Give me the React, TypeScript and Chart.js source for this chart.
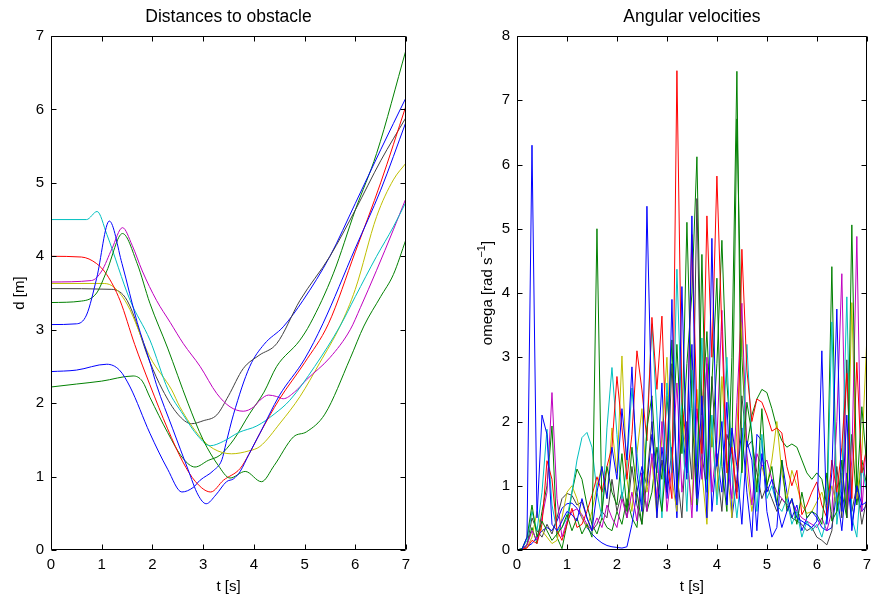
import React, { useEffect, useRef } from "react";
import { Chart, registerables } from "chart.js";
Chart.register(...registerables);

// ---------- Left plot: distances (t [s], d [m]) ----------
const dBlue1: [number, number][] = [[0,3.07],[0.5,3.08],[0.7,3.2],[0.9,3.7],[1.15,4.48],[1.4,3.9],[1.7,3.1],[1.95,2.56],[2.08,2.25],[2.4,1.65],[2.7,1.1],[2.9,0.75],[3.06,0.63],[3.25,0.75],[3.46,0.93],[3.6,0.97],[3.73,1.07],[3.9,1.3],[4.12,1.59],[4.5,2.1],[5.0,2.6],[5.36,3.08],[6,4.11],[6.5,4.9],[7,5.83]];
const dGreen1: [number, number][] = [[0,3.37],[0.6,3.39],[0.9,3.5],[1.1,3.8],[1.41,4.31],[1.7,3.9],[1.95,3.36],[2.3,2.75],[2.7,2.0],[3.0,1.5],[3.3,1.15],[3.53,0.98],[3.83,1.07],[4.15,0.93],[4.4,1.15],[4.78,1.54],[5.04,1.61],[5.4,1.85],[5.9,2.61],[6.17,3.05],[6.5,3.45],[6.75,3.75],[7,4.23]];
const dRed: [number, number][] = [[0,4.0],[0.6,3.99],[0.9,3.9],[1.1,3.75],[1.36,3.4],[1.65,2.8],[1.95,2.25],[2.3,1.65],[2.6,1.2],[2.85,0.93],[3.15,0.79],[3.4,0.95],[3.73,1.11],[3.9,1.3],[4.12,1.59],[4.5,2.05],[5.0,2.55],[5.47,3.08],[6,4.06],[6.5,5.0],[7,6.05]];
const dCyan: [number, number][] = [[0,4.5],[0.7,4.5],[0.91,4.61],[1.1,4.3],[1.56,3.4],[1.95,2.86],[2.31,2.18],[2.6,1.85],[2.9,1.55],[3.14,1.42],[3.4,1.48],[3.7,1.6],[4.06,1.69],[4.4,1.85],[4.71,2.04],[5.2,2.5],[5.7,3.05],[6,3.45],[6.42,4.0],[6.75,4.4],[7,4.74]];
const dMagenta: [number, number][] = [[0,3.65],[0.8,3.67],[1.0,3.8],[1.2,4.1],[1.41,4.39],[1.6,4.15],[1.8,3.8],[2.08,3.4],[2.35,3.1],[2.61,2.81],[2.94,2.5],[3.27,2.13],[3.53,1.95],[3.79,1.89],[4.0,1.95],[4.12,2.04],[4.29,2.11],[4.45,2.09],[4.58,2.06],[4.8,2.15],[5.04,2.32],[5.5,2.62],[5.9,3.0],[6.1,3.3],[6.42,3.81],[6.75,4.36],[7,4.79]];
const dYellow: [number, number][] = [[0,3.63],[1.0,3.63],[1.2,3.6],[1.5,3.35],[1.95,2.63],[2.38,2.18],[2.54,1.95],[2.94,1.54],[3.2,1.38],[3.56,1.31],[3.9,1.35],[4.12,1.41],[4.52,1.73],[4.91,2.09],[5.3,2.55],[5.7,3.05],[6.0,3.55],[6.42,4.54],[6.75,5.04],[7,5.27]];
const dGray: [number, number][] = [[0,3.56],[1.2,3.55],[1.5,3.4],[1.95,2.56],[2.2,2.18],[2.5,1.85],[2.77,1.72],[3.0,1.76],[3.27,1.84],[3.5,2.1],[3.79,2.47],[4.1,2.65],[4.45,2.81],[4.91,3.4],[5.5,4.0],[6,4.63],[6.5,5.3],[7,5.89]];
const dBlue2: [number, number][] = [[0,2.43],[0.5,2.45],[1.1,2.53],[1.35,2.45],[1.56,2.22],[1.95,1.59],[2.3,1.1],[2.58,0.79],[2.8,0.85],[2.94,0.95],[3.2,1.08],[3.37,1.23],[3.45,1.45],[3.6,1.85],[3.92,2.5],[4.2,2.8],[4.58,3.04],[4.97,3.4],[5.5,4.0],[6,4.72],[6.5,5.45],[7,6.16]];
const dGreen2: [number, number][] = [[0,2.22],[0.5,2.26],[1.0,2.3],[1.62,2.37],[1.8,2.3],[1.95,2.08],[2.3,1.6],[2.6,1.25],[2.84,1.13],[3.1,1.22],[3.33,1.29],[3.6,1.5],[3.92,1.86],[4.2,2.15],[4.45,2.5],[4.9,2.85],[5.11,3.08],[5.57,3.77],[6,4.63],[6.42,5.4],[7,6.81]];

// ---------- Right plot: angular velocities ----------
const tGrid = [0,0.1,0.2,0.3,0.4,0.5,0.6,0.7,0.8,0.9,1.0,1.1,1.2,1.3,1.4,1.5,1.6,1.7,1.8,1.9,2.0,2.1,2.2,2.3,2.4,2.5,2.6,2.7,2.8,2.9,3.0,3.1,3.2,3.3,3.4,3.5,3.6,3.7,3.8,3.9,4.0,4.1,4.2,4.3,4.4,4.5,4.6,4.7,4.8,4.9,5.0,5.1,5.2,5.3,5.4,5.5,5.6,5.7,5.8,5.9,6.0,6.1,6.2,6.3,6.4,6.5,6.6,6.7,6.8,6.9,7.0];
const wBlue1 = [0,0.01,0.2,6.3,0.5,2.1,1.8,0.4,0.3,0.45,0.6,0.55,0.45,0.8,0.5,0.3,0.9,1.3,0.8,1.6,1.1,2.2,1.4,2.85,1.2,0.6,5.35,2.0,0.5,1.6,0.9,3.9,0.7,4.1,1.2,5.2,0.8,2.4,0.5,4.85,1.3,2.0,0.7,1.9,1.3,0.4,1.7,1.4,0.3,1.5,0.9,1.1,0.7,0.35,0.6,0.8,0.5,0.45,0.4,0.35,0.45,3.1,0.4,1.2,3.75,0.6,2.1,0.3,1.0,0.7,0.75];
const wGreen1 = [0,0.02,0.2,0.7,0.2,0.45,0.3,0.15,0.25,0.35,0.55,0.3,0.5,0.25,0.4,0.2,5.0,0.6,1.3,0.9,0.7,1.5,0.6,1.6,0.9,0.4,1.9,2.4,1.1,0.6,1.5,3.27,0.9,1.8,5.1,2.2,0.7,4.6,1.1,2.6,4.23,1.3,0.6,3.0,7.45,1.2,2.3,1.8,0.9,2.2,1.0,1.3,0.7,1.4,0.6,0.8,0.4,0.9,0.5,0.6,0.55,0.4,1.2,0.45,0.6,1.4,0.5,5.06,0.9,2.23,1.3];
const wRed = [0,0.01,0.03,0.15,0.1,0.4,1.39,1.1,0.3,0.15,0.4,0.65,0.35,0.4,0.6,0.85,1.14,0.9,1.3,1.6,2.7,1.9,1.1,1.8,3.1,2.49,1.7,3.62,2.5,3.64,1.4,0.8,7.46,2.3,1.6,4.91,2.2,1.5,5.2,3.0,5.82,3.4,1.2,1.6,0.8,4.68,2.8,2.0,2.35,2.3,2.1,1.85,1.9,1.82,1.3,1.0,1.24,0.55,0.7,0.9,1.06,0.7,0.5,1.4,0.9,1.6,2.75,0.8,2.92,1.2,1.6];
const wCyan = [0,0.02,0.15,0.6,0.3,0.9,1.88,0.7,0.3,0.35,0.5,0.9,1.4,1.75,1.83,1.6,0.9,0.5,1.9,2.84,1.8,0.8,1.3,2.52,1.5,0.7,1.9,3.52,2.1,0.5,2.6,1.2,4.37,2.0,0.6,2.8,1.3,3.3,0.9,2.1,0.7,1.6,3.0,1.2,0.5,1.3,3.2,1.7,0.6,1.8,0.8,1.0,0.7,0.6,0.8,0.4,0.6,0.2,0.45,0.3,0.4,0.2,0.5,3.55,0.4,1.1,3.94,0.5,0.2,1.3,0.9];
const wMagenta = [0,0.01,0.08,0.3,0.15,0.5,0.9,2.45,0.8,0.2,0.45,0.6,0.64,0.55,0.4,0.3,0.5,0.35,0.7,0.5,0.35,0.8,0.5,0.9,0.45,1.2,0.6,1.5,0.8,2.0,0.6,1.3,2.6,0.9,1.6,0.5,2.2,1.1,3.0,0.9,1.7,3.73,1.4,0.8,2.3,3.84,1.5,0.7,1.5,1.3,1.4,1.1,0.9,0.8,0.7,0.75,0.6,0.5,0.45,0.4,0.35,0.5,0.3,0.6,2.0,4.3,0.5,1.4,4.88,0.6,1.8];
const wYellow = [0,0.01,0.04,0.2,0.6,0.3,0.2,0.1,0.15,0.5,0.9,1.0,0.8,0.5,0.35,0.6,1.0,1.3,0.8,1.9,1.2,3.02,1.1,0.6,1.5,2.2,0.9,1.4,0.5,1.8,3.0,1.1,0.6,2.1,1.4,0.7,2.5,1.2,0.4,1.9,0.8,2.7,1.3,0.5,1.9,3.55,1.2,0.6,1.1,1.3,1.0,1.4,2.0,1.2,0.78,1.24,1.0,0.7,0.57,0.6,0.75,0.9,0.6,1.0,0.7,1.2,0.6,3.85,0.8,1.5,3.3];
const wGray = [0,0.01,0.08,0.5,0.3,0.2,0.4,0.25,0.5,0.8,0.88,0.85,0.7,0.75,0.5,0.3,0.4,0.6,0.5,1.1,0.6,0.9,0.5,1.3,0.7,0.4,1.1,2.0,0.6,1.4,0.9,2.9,1.2,0.5,2.0,1.1,5.47,1.5,0.9,2.7,1.3,0.6,1.8,1.5,0.9,2.4,1.6,1.7,1.2,0.8,1.0,0.8,0.6,0.8,0.7,0.5,0.45,0.4,0.3,0.35,0.2,0.15,0.08,0.3,1.3,0.5,2.96,0.6,1.0,0.4,0.8];
const wBlue2 = [0,0.02,0.05,0.1,0.2,0.3,0.35,0.3,0.45,0.65,0.72,0.73,0.65,0.5,0.35,0.25,0.17,0.11,0.07,0.05,0.04,0.03,0.05,0.4,0.9,1.3,1.0,1.8,1.2,2.6,0.8,1.6,0.5,2.0,1.1,3.2,0.6,1.5,2.9,0.6,1.5,0.9,2.3,0.5,1.1,1.9,0.9,0.2,1.8,1.7,0.6,0.2,0.35,1.4,0.9,0.5,0.7,0.3,0.5,0.6,0.5,0.35,0.3,0.35,0.9,0.3,1.2,0.4,0.9,0.6,0.7];
const wGreen2 = [0,0.01,0.08,0.35,0.1,0.6,1.0,1.93,0.2,0.02,0.4,0.9,1.26,1.1,0.7,0.4,0.25,0.5,0.35,0.3,0.6,0.4,0.8,0.5,0.35,1.2,0.6,0.9,1.6,1.1,2.4,1.4,3.2,1.5,2.9,4.0,6.12,2.1,3.4,1.6,2.9,4.82,2.6,1.5,6.71,3.0,1.6,2.1,2.35,2.5,2.45,2.2,1.9,1.7,1.6,1.65,1.6,1.4,1.2,1.1,1.2,1.1,0.7,4.41,0.6,0.9,0.5,1.8,0.7,1.4,1.0];

const xTicks = [0, 1, 2, 3, 4, 5, 6, 7];
const leftYTicks = [0, 1, 2, 3, 4, 5, 6, 7];
const rightYTicks = [0, 1, 2, 3, 4, 5, 6, 7, 8];

const C = {
  b: "#0000FF", g: "#008000", r: "#FF0000", c: "#00BFBF",
  m: "#BF00BF", y: "#BFBF00", k: "#404040",
};
const FONT = "'Liberation Sans', Arial, Helvetica, sans-serif";

function framePlugin(title: string, ylabel: string, sup: boolean, ylabelOffset: number) {
  return {
    id: "frame",
    afterDraw(chart: any) {
      const { ctx, chartArea: a, scales } = chart;
      const L = Math.round(a.left) + 0.5, R = Math.round(a.right) - 0.5;
      const T = Math.round(a.top) + 0.5, B = Math.round(a.bottom) - 0.5;
      ctx.save();
      ctx.strokeStyle = "#000";
      ctx.lineWidth = 1;
      ctx.beginPath();
      ctx.rect(L, T, R - L, B - T);
      const tl = 5;
      scales.x.ticks.forEach((t: any) => {
        const x = Math.round(scales.x.getPixelForValue(t.value)) + 0.5;
        ctx.moveTo(x, B); ctx.lineTo(x, B - tl);
        ctx.moveTo(x, T); ctx.lineTo(x, T + tl);
      });
      scales.y.ticks.forEach((t: any) => {
        const y = Math.round(scales.y.getPixelForValue(t.value)) + 0.5;
        ctx.moveTo(L, y); ctx.lineTo(L + tl, y);
        ctx.moveTo(R, y); ctx.lineTo(R - tl, y);
      });
      ctx.stroke();
      ctx.fillStyle = "#000";
      const cx = (a.left + a.right) / 2;
      const cy = (a.top + a.bottom) / 2;
      ctx.font = `17.5px ${FONT}`;
      ctx.textAlign = "center";
      ctx.textBaseline = "alphabetic";
      ctx.fillText(title, cx, a.top - 14);
      ctx.font = `15px ${FONT}`;
      ctx.fillText("t [s]", cx, a.bottom + 41);
      ctx.save();
      ctx.translate(a.left - ylabelOffset, cy);
      ctx.rotate(-Math.PI / 2);
      ctx.textBaseline = "middle";
      if (!sup) {
        ctx.textAlign = "center";
        ctx.fillText(ylabel, 0, 0);
      } else {
        const main = ylabel;
        const supTxt = "\u22121";
        const tail = "]";
        ctx.font = `15px ${FONT}`;
        const w1 = ctx.measureText(main).width;
        ctx.font = `11px ${FONT}`;
        const w2 = ctx.measureText(supTxt).width;
        ctx.font = `15px ${FONT}`;
        const w3 = ctx.measureText(tail).width;
        const x0 = -(w1 + w2 + w3) / 2;
        ctx.textAlign = "left";
        ctx.fillText(main, x0, 0);
        ctx.font = `11px ${FONT}`;
        ctx.fillText(supTxt, x0 + w1, -6);
        ctx.font = `15px ${FONT}`;
        ctx.fillText(tail, x0 + w1 + w2, 0);
      }
      ctx.restore();
      ctx.restore();
    },
  };
}

function scalesFor(yMax: number, yTicks: number[], yWidth: number) {
  const tickFont = { family: FONT, size: 15 };
  return {
    x: {
      type: "linear" as const,
      min: 0, max: 7,
      afterBuildTicks: (s: any) => { s.ticks = xTicks.map((v) => ({ value: v })); },
      afterFit: (s: any) => { s.height = 51; },
      grid: { display: false, drawTicks: false },
      border: { display: false },
      ticks: { color: "#000", font: tickFont, padding: 6, maxRotation: 0, autoSkip: false },
    },
    y: {
      type: "linear" as const,
      min: 0, max: yMax,
      afterBuildTicks: (s: any) => { s.ticks = yTicks.map((v) => ({ value: v })); },
      afterFit: (s: any) => { s.width = yWidth; },
      grid: { display: false, drawTicks: false },
      border: { display: false },
      ticks: { color: "#000", font: tickFont, padding: 7, autoSkip: false },
    },
  };
}

function LeftChart() {
  const ref = useRef<HTMLCanvasElement>(null);
  useEffect(() => {
    const curves: [[number, number][], string][] = [
      [dBlue1, C.b], [dGreen1, C.g], [dRed, C.r], [dCyan, C.c], [dMagenta, C.m],
      [dYellow, C.y], [dGray, C.k], [dBlue2, C.b], [dGreen2, C.g],
    ];
    const chart = new Chart(ref.current!, {
      type: "line",
      data: {
        datasets: curves.map(([pts, col]) => ({
          data: pts.map(([x, y]) => ({ x, y })),
          borderColor: col,
          borderWidth: 1,
          pointRadius: 0,
          fill: false,
          cubicInterpolationMode: "monotone" as const,
        })),
      },
      options: {
        responsive: false,
        animation: false,
        devicePixelRatio: 1,
        layout: { padding: { left: 0, right: 32, top: 36, bottom: 0 } },
        plugins: { legend: { display: false }, tooltip: { enabled: false }, title: { display: false } },
        scales: scalesFor(7, leftYTicks, 51),
      },
      plugins: [framePlugin("Distances to obstacle", "d [m]", false, 31)],
    });
    return () => chart.destroy();
  }, []);
  return <canvas ref={ref} width={438} height={601} style={{ position: "absolute", left: 0, top: 0 }} />;
}

function RightChart() {
  const ref = useRef<HTMLCanvasElement>(null);
  useEffect(() => {
    const series: [number[], string][] = [
      [wBlue1, C.b], [wGreen1, C.g], [wRed, C.r], [wCyan, C.c], [wMagenta, C.m],
      [wYellow, C.y], [wGray, C.k], [wBlue2, C.b], [wGreen2, C.g],
    ];
    const chart = new Chart(ref.current!, {
      type: "line",
      data: {
        datasets: series.map(([vals, col]) => ({
          data: vals.map((y, i) => ({ x: tGrid[i], y })),
          borderColor: col,
          borderWidth: 1,
          pointRadius: 0,
          fill: false,
          tension: 0,
        })),
      },
      options: {
        responsive: false,
        animation: false,
        devicePixelRatio: 1,
        layout: { padding: { left: 0, right: 5, top: 36, bottom: 0 } },
        plugins: { legend: { display: false }, tooltip: { enabled: false }, title: { display: false } },
        scales: scalesFor(8, rightYTicks, 79),
      },
      plugins: [framePlugin("Angular velocities", "omega [rad s", true, 29)],
    });
    return () => chart.destroy();
  }, []);
  return <canvas ref={ref} width={439} height={601} style={{ position: "absolute", left: 438, top: 0 }} />;
}

export default function App() {
  return (
    <div style={{ position: "fixed", left: 0, top: 0, width: 877, height: 601, background: "#fff", overflow: "hidden" }}>
      <LeftChart />
      <RightChart />
    </div>
  );
}
